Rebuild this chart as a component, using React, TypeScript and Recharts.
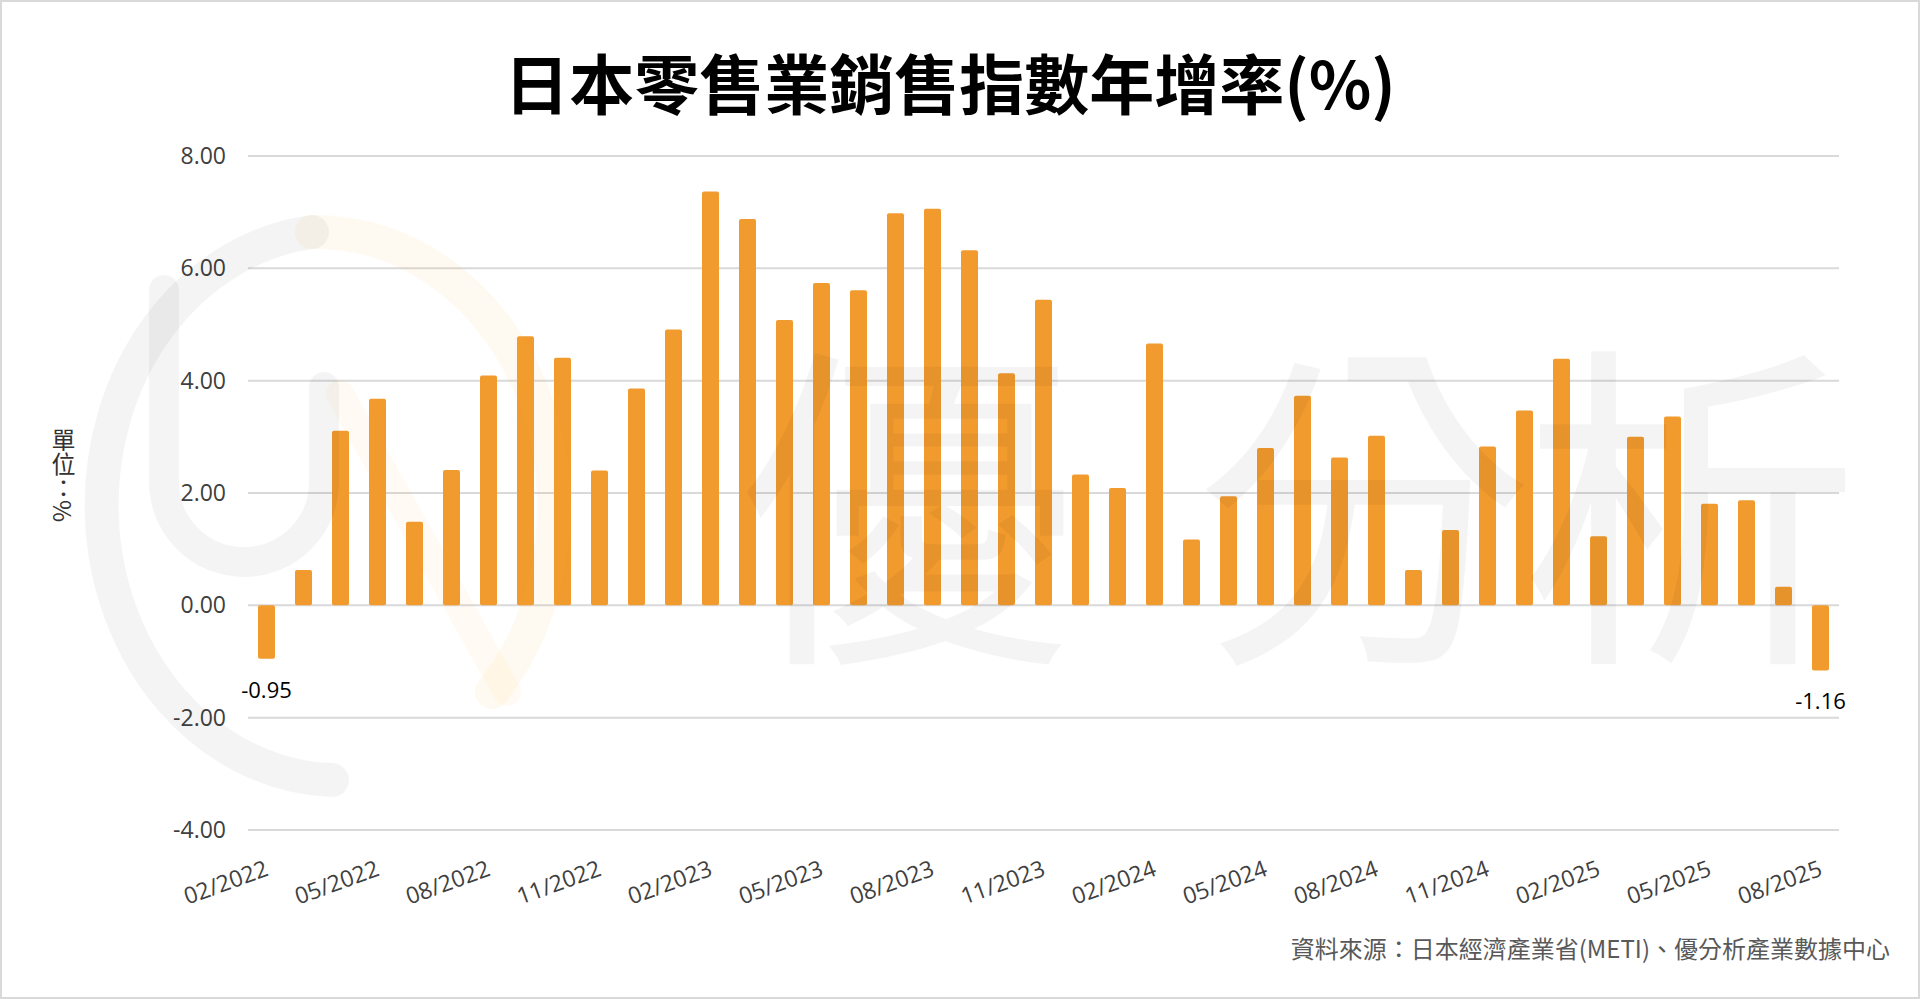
import { BarChart, Bar, CartesianGrid, XAxis, YAxis, LabelList } from "recharts";

const months = [
  "02/2022", "03/2022", "04/2022", "05/2022", "06/2022", "07/2022", "08/2022", "09/2022", "10/2022", "11/2022", "12/2022",
  "01/2023", "02/2023", "03/2023", "04/2023", "05/2023", "06/2023", "07/2023", "08/2023", "09/2023", "10/2023", "11/2023", "12/2023",
  "01/2024", "02/2024", "03/2024", "04/2024", "05/2024", "06/2024", "07/2024", "08/2024", "09/2024", "10/2024", "11/2024", "12/2024",
  "01/2025", "02/2025", "03/2025", "04/2025", "05/2025", "06/2025", "07/2025", "08/2025",
];

const growth = [
  -0.95, 0.63, 3.11, 3.68, 1.49, 2.41, 4.09, 4.79, 4.41, 2.4, 3.86,
  4.91, 7.37, 6.88, 5.08, 5.74, 5.61, 6.98, 7.06, 6.32, 4.13, 5.44, 2.33,
  2.09, 4.66, 1.17, 1.94, 2.8, 3.73, 2.63, 3.02, 0.63, 1.34, 2.83, 3.47,
  4.39, 1.23, 3.0, 3.36, 1.81, 1.87, 0.33, -1.16,
];

const yTicks = [-4, -2, 0, 2, 4, 6, 8];

const data = months.map((m, i) => ({ m, v: growth[i] }));

const TICK_FONT = "'Open Sans', 'Noto Sans', sans-serif";
const CJK_FONT = "'Noto Sans CJK TC', 'Noto Sans CJK SC', sans-serif";

function MonthTick({ x, y, payload }: any) {
  return (
    <text
      transform={`translate(${x + 3},${y + 37}) rotate(-20)`}
      textAnchor="end"
      fontSize={23}
      fontFamily={TICK_FONT}
      fill="#404040"
    >
      {payload.value}
    </text>
  );
}

function EndLabel(props: any) {
  const { x, y, width, height, value, index } = props;
  if (index !== 0 && index !== growth.length - 1) return null;
  const bottom = Math.max(Number(y), Number(y) + Number(height));
  return (
    <text x={Number(x) + Number(width) / 2} y={bottom + 39} textAnchor="middle" fontSize={22} fontFamily={TICK_FONT} fill="#000">
      {Number(value).toFixed(2)}
    </text>
  );
}

function Watermark() {
  const gray = "rgba(0,0,0,0.045)";
  return (
    <svg width={1920} height={999} style={{ position: "absolute", left: 0, top: 0, pointerEvents: "none" }}>
      <path d="M 310 230 A 238 275 0 0 0 330 778" fill="none" stroke={gray} strokeWidth={34} strokeLinecap="round" />
      <path d="M 310 230 A 238 275 0 0 1 490 690" fill="none" stroke="rgba(250,190,60,0.07)" strokeWidth={34} strokeLinecap="round" />
      <path d="M 338 392 L 505 690" fill="none" stroke="rgba(250,190,60,0.06)" strokeWidth={28} strokeLinecap="round" />
      <path d="M 162 288 L 162 480 A 80 80 0 0 0 322 480 L 322 385" fill="none" stroke={gray} strokeWidth={30} strokeLinecap="round" />
      <g fontFamily={CJK_FONT} fontSize={340} fill={gray} textAnchor="middle">
        <text x={905} y={635}>優</text>
        <text x={1362} y={635}>分</text>
        <text x={1688} y={635}>析</text>
      </g>
    </svg>
  );
}

export default function App() {
  return (
    <div
      style={{
        position: "absolute",
        left: 0,
        top: 0,
        width: 1920,
        height: 999,
        background: "#fff",
        border: "2px solid #d9d9d9",
        boxSizing: "border-box",
        overflow: "hidden",
      }}
    >
      <div
        style={{
          position: "absolute",
          left: 0,
          top: 43,
          width: 1896,
          textAlign: "center",
          fontFamily: CJK_FONT,
          fontWeight: 700,
          fontSize: 65,
          lineHeight: "72px",
          color: "#000",
        }}
      >
        日本零售業銷售指數年增率(%)
      </div>
      <div
        style={{
          position: "absolute",
          left: 44,
          top: 426,
          writingMode: "vertical-rl",
          fontFamily: CJK_FONT,
          fontSize: 24,
          color: "#333",
        }}
      >
        單位：%
      </div>
      <div style={{ position: "absolute", left: -2, top: -2 }}>
        <BarChart width={1920} height={999} data={data} margin={{ top: 156, right: 81, bottom: 29, left: 158 }}>
          <CartesianGrid horizontal vertical={false} stroke="#d9d9d9" strokeWidth={2} />
          <XAxis dataKey="m" interval={2} axisLine={false} tickLine={false} height={140} tick={<MonthTick />} />
          <YAxis
            domain={[-4, 8]}
            ticks={yTicks}
            width={90}
            axisLine={false}
            tickLine={false}
            tickSize={6}
            tickMargin={16}
            tickFormatter={(v: number) => v.toFixed(2)}
            tick={{ fontSize: 23, fill: "#404040", fontFamily: TICK_FONT }}
          />
          <Bar dataKey="v" fill="#F19A2D" barSize={17} radius={2} isAnimationActive={false}>
            <LabelList dataKey="v" content={<EndLabel />} />
          </Bar>
        </BarChart>
      </div>
      <Watermark />
      <div
        style={{
          position: "absolute",
          right: 28,
          top: 928,
          fontFamily: CJK_FONT,
          fontSize: 24,
          color: "#595959",
          whiteSpace: "nowrap",
        }}
      >
        資料來源：日本經濟產業省(METI)、優分析產業數據中心
      </div>
    </div>
  );
}
